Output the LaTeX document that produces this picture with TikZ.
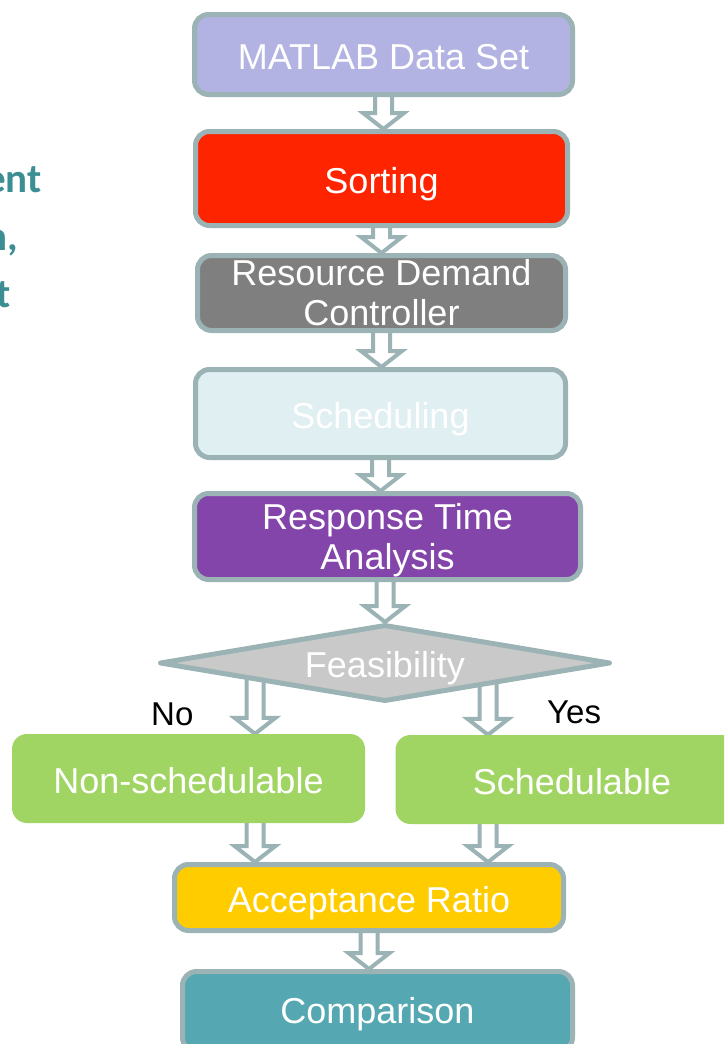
\documentclass[tikz,border=0pt]{standalone}
\usepackage{fontspec}
\setmainfont{Liberation Sans}
\newfontfamily\sidefont{Carlito}
\usepackage{tikz}
\usetikzlibrary{positioning, shapes.geometric, calc, backgrounds}

\definecolor{rim}{RGB}{155,179,181}
\definecolor{datablue}{RGB}{178,179,226}
\definecolor{sortred}{RGB}{255,36,0}
\definecolor{ctrlgray}{RGB}{127,127,127}
\definecolor{schedblue}{RGB}{224,239,242}
\definecolor{rtapurple}{RGB}{132,69,170}
\definecolor{feasgray}{RGB}{201,201,201}
\definecolor{branchgreen}{RGB}{161,213,99}
\definecolor{acceptyellow}{RGB}{255,204,0}
\definecolor{compteal}{RGB}{85,168,177}
\definecolor{sideteal}{RGB}{60,142,148}

% hollow block arrow: shaft from #1, tip at #2
\newcommand{\flowarrow}[2]{%
\draw[flow] ($(#1)+(-8.5,0)$) -- ($(#2)+(-8.5,16)$) -- ($(#2)+(-20.5,16)$)
-- (#2) -- ($(#2)+(20.5,16)$) -- ($(#2)+(8.5,16)$) -- ($(#1)+(8.5,0)$) -- cycle;}

\begin{document}
\begin{tikzpicture}[
x=1pt, y=1pt,
node distance=32pt,
box/.style={
rectangle,
rounded corners=14pt,
draw=rim,
line width=5pt,
line join=round,
text=white,
font=\fontsize{36}{40}\selectfont,
align=center,
inner sep=0pt
},
oneline/.style={
text height=29pt,
text depth=0pt
},
choice/.style={
diamond,
aspect=5.8,
draw=rim,
line width=5pt,
line join=round,
fill=feasgray,
text=white,
font=\fontsize{36}{40}\selectfont,
inner sep=0pt,
minimum width=451pt,
minimum height=77pt
},
branch/.style={
rectangle,
rounded corners=15pt,
fill=branchgreen,
text=white,
font=\fontsize{36}{40}\selectfont,
inner sep=0pt,
minimum width=353pt,
minimum height=89pt
},
flow/.style={
draw=rim,
fill=white,
line width=4pt,
line join=miter
},
answer/.style={
font=\fontsize{33}{36}\selectfont,
inner sep=0pt,
anchor=base west
},
side/.style={
font=\sidefont\bfseries\fontsize{41}{48}\selectfont,
text=sideteal,
inner sep=0pt,
anchor=base east
}
]

\useasboundingbox (0,0) rectangle (724,-1044);
\clip (0,0) rectangle (724,-1044);

\node[side] (frag1) at (42,-192) {ent};
\node[side] (frag2) at (18,-250) {n,};
\node[side] (frag3) at (11,-307) {t};

\node[box, oneline, fill=datablue, minimum width=378pt, minimum height=80pt] (data) at (383.5,-54.5)
{MATLAB Data Set};

\node[box, oneline, fill=sortred, minimum width=372pt, minimum height=94pt, below=of data, xshift=-2pt] (sort)
{Sorting};

\node[box, fill=ctrlgray, minimum width=368pt, minimum height=75pt, below=25pt of sort] (rdc)
{Resource Demand\\Controller};

\node[box, oneline, fill=schedblue, minimum width=370pt, minimum height=88pt, below=34pt of rdc, xshift=-1pt] (sched)
{Scheduling};

\node[box, fill=rtapurple, text depth=0pt, minimum width=386pt, minimum height=86pt, below=31pt of sched, xshift=7pt] (rta)
{Response Time\\Analysis};

\node[choice, oneline, below=40pt of rta, xshift=-2.5pt] (feas) {Feasibility};

\coordinate (nobranch) at ($(feas)+(-130,0)$);
\coordinate (yesbranch) at ($(feas)+(103,0)$);

\node[branch, text height=29pt, text depth=0pt] (nosched) at (188.5,-778.5) {Non-schedulable};
\node[branch, text height=29pt, text depth=0pt] (yessched) at (572,-779.5) {Schedulable};

\node[answer] (nolabel) at (151,-725) {No};
\node[answer] (yeslabel) at (547,-723) {Yes};

\node[box, oneline, fill=acceptyellow, minimum width=389pt, minimum height=66pt] (accept) at (369,-897.5)
{Acceptance Ratio};

\node[box, text height=29pt, text depth=6pt, fill=compteal, minimum width=390pt, minimum height=80pt, below=36pt of accept, xshift=8.5pt] (comp)
{Comparison};

\begin{scope}[on background layer]
\flowarrow{data}{data |- sort.north}
\flowarrow{sort}{sort |- rdc.north}
\flowarrow{rdc}{rdc |- sched.north}
\flowarrow{sched}{sched |- rta.north}
\flowarrow{feas |- rta}{feas.north}
\flowarrow{nobranch}{nobranch |- nosched.north}
\flowarrow{yesbranch}{yesbranch |- yessched.north}
\flowarrow{nobranch |- nosched}{nobranch |- accept.north}
\flowarrow{yesbranch |- yessched}{yesbranch |- accept.north}
\flowarrow{accept}{accept |- comp.north}
\end{scope}

\end{tikzpicture}
\end{document}
